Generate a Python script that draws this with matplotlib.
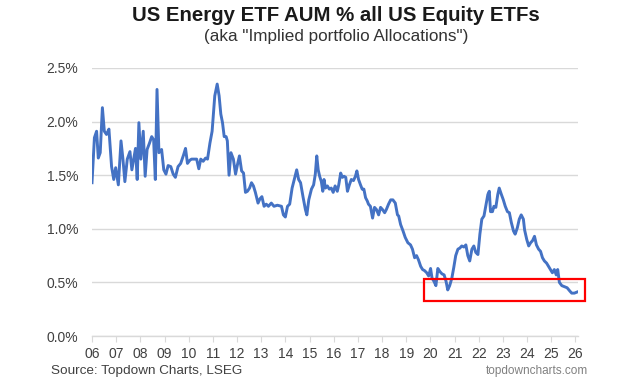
import matplotlib
matplotlib.use("Agg")
import matplotlib.pyplot as plt
from matplotlib.patches import Rectangle

plt.rcParams['font.family'] = ['Liberation Sans', 'DejaVu Sans']

years = [
    2006.00, 2006.10, 2006.19, 2006.26, 2006.34, 2006.43, 2006.51, 2006.60, 2006.70, 2006.81,
    2006.90, 2006.98, 2007.09, 2007.20, 2007.28, 2007.36, 2007.46, 2007.57, 2007.65, 2007.73,
    2007.80, 2007.87, 2007.94, 2008.02, 2008.12, 2008.20, 2008.28, 2008.38, 2008.47, 2008.55,
    2008.62, 2008.69, 2008.77, 2008.88, 2008.97, 2009.06, 2009.15, 2009.26, 2009.36, 2009.45,
    2009.56, 2009.67, 2009.79, 2009.87, 2009.95,
    2010.05, 2010.12, 2010.33, 2010.42, 2010.50, 2010.60, 2010.70, 2010.78, 2010.88, 2010.97,
    2011.08, 2011.18, 2011.26, 2011.33, 2011.40, 2011.47, 2011.55, 2011.60, 2011.67, 2011.75,
    2011.85, 2011.94, 2012.02, 2012.10, 2012.19, 2012.27, 2012.35, 2012.43, 2012.52, 2012.60,
    2012.68, 2012.76, 2012.87, 2012.95, 2013.03, 2013.12, 2013.21, 2013.30, 2013.42, 2013.53,
    2013.67, 2013.84, 2013.92, 2014.00,
    2014.09, 2014.18, 2014.28, 2014.39, 2014.47, 2014.55, 2014.63, 2014.73, 2014.83, 2014.89,
    2014.97, 2015.08, 2015.17, 2015.24, 2015.30, 2015.36, 2015.42, 2015.49, 2015.55, 2015.60,
    2015.66, 2015.74, 2015.82, 2015.90, 2015.98, 2016.06, 2016.15, 2016.21, 2016.29, 2016.36,
    2016.43, 2016.50, 2016.57, 2016.65, 2016.73, 2016.82, 2016.90, 2016.96, 2017.03, 2017.11,
    2017.18, 2017.25, 2017.32, 2017.39, 2017.44, 2017.52, 2017.61, 2017.69, 2017.77, 2017.86,
    2017.94, 2018.02, 2018.11, 2018.18, 2018.27, 2018.36, 2018.45, 2018.55, 2018.64, 2018.69,
    2018.77, 2018.87, 2018.96, 2019.07, 2019.18, 2019.26, 2019.35, 2019.43, 2019.51, 2019.60,
    2019.68, 2019.76, 2019.85, 2019.93, 2020.01, 2020.07, 2020.15, 2020.23, 2020.31, 2020.40,
    2020.48, 2020.57, 2020.65, 2020.72, 2020.80, 2020.89, 2020.97, 2021.05, 2021.14, 2021.22,
    2021.30, 2021.39, 2021.47, 2021.55, 2021.63, 2021.72, 2021.80, 2021.88, 2021.97, 2022.05,
    2022.13, 2022.22,
    2022.31, 2022.38, 2022.44, 2022.49, 2022.57, 2022.63, 2022.71, 2022.79, 2022.85, 2022.94,
    2023.02, 2023.10, 2023.19, 2023.27, 2023.35, 2023.44, 2023.51, 2023.60, 2023.68, 2023.76,
    2023.85, 2023.90, 2023.99, 2024.07, 2024.15, 2024.23, 2024.31, 2024.39, 2024.48, 2024.56,
    2024.64, 2024.72, 2024.81, 2024.89, 2024.97, 2025.05, 2025.13, 2025.21, 2025.27, 2025.34,
    2025.44, 2025.55, 2025.66, 2025.77, 2025.85, 2025.96, 2026.07,
]
alloc_pct = [
    1.43, 1.85, 1.91, 1.66, 1.71, 2.13, 1.91, 1.88, 1.93, 1.58,
    1.46, 1.57, 1.41, 1.82, 1.65, 1.44, 1.65, 1.72, 1.55, 1.66,
    1.75, 1.46, 1.99, 1.65, 1.91, 1.49, 1.74, 1.80, 1.86, 1.83,
    1.46, 2.30, 1.71, 1.74, 1.55, 1.51, 1.59, 1.58, 1.51, 1.48,
    1.58, 1.61, 1.69, 1.75, 1.61,
    1.64, 1.65, 1.65, 1.56, 1.65, 1.63, 1.66, 1.65, 1.80, 1.91,
    2.24, 2.35, 2.24, 2.07, 1.99, 1.86, 1.86, 1.82, 1.50, 1.71,
    1.65, 1.51, 1.60, 1.68, 1.54, 1.52, 1.34, 1.35, 1.38, 1.43,
    1.40, 1.34, 1.24, 1.28, 1.30, 1.21, 1.23, 1.21, 1.24, 1.21,
    1.22, 1.21, 1.13, 1.11,
    1.21, 1.23, 1.38, 1.48, 1.55, 1.46, 1.43, 1.30, 1.18, 1.13,
    1.27, 1.37, 1.41, 1.51, 1.68, 1.55, 1.49, 1.44, 1.35, 1.46,
    1.38, 1.40, 1.37, 1.38, 1.34, 1.40, 1.35, 1.41, 1.52, 1.48,
    1.49, 1.48, 1.35, 1.41, 1.46, 1.45, 1.49, 1.54, 1.46, 1.41,
    1.37, 1.37, 1.29, 1.26, 1.23, 1.21, 1.10, 1.20, 1.18, 1.13,
    1.20, 1.18, 1.15, 1.18, 1.23, 1.27, 1.27, 1.24, 1.13, 1.12,
    1.04, 0.98, 0.92, 0.87, 0.85, 0.81, 0.73, 0.75, 0.71, 0.65,
    0.62, 0.61, 0.59, 0.56, 0.63, 0.54, 0.51, 0.47, 0.63, 0.60,
    0.58, 0.57, 0.51, 0.43, 0.47, 0.54, 0.64, 0.75, 0.81, 0.82,
    0.84, 0.83, 0.85, 0.75, 0.70, 0.81, 0.84, 0.78, 0.76, 0.95,
    1.09, 1.12,
    1.23, 1.32, 1.35, 1.16, 1.16, 1.21, 1.20, 1.32, 1.38, 1.32,
    1.27, 1.21, 1.16, 1.15, 1.06, 0.98, 0.95, 1.01, 1.09, 1.13,
    1.09, 0.99, 0.90, 0.84, 0.87, 0.89, 0.93, 0.85, 0.81, 0.79,
    0.73, 0.70, 0.68, 0.65, 0.62, 0.59, 0.62, 0.57, 0.62, 0.50,
    0.47, 0.46, 0.45, 0.42, 0.40, 0.40, 0.41,
]

tick_years = list(range(2006, 2027))
tick_labels = [f"{y % 100:02d}" for y in tick_years]
y_ticks = [0.0, 0.5, 1.0, 1.5, 2.0, 2.5]
y_tick_labels = [f"{v:.1f}%" for v in y_ticks]

highlight_x = (2019.72, 2026.41)
highlight_y = (0.326, 0.531)

fig = plt.figure(figsize=(6.28, 3.89), dpi=100)
ax = fig.add_axes([0.1465, 0.1362, 0.7735, 0.689])

ax.plot(years, alloc_pct, color="#4472C4", linewidth=2.1, solid_joinstyle="round", zorder=3)

ax.set_xlim(2006, 2026.1)
ax.set_ylim(0, 2.5)
ax.set_yticks(y_ticks)
ax.set_yticklabels(y_tick_labels)
ax.set_xticks(tick_years)
ax.set_xticklabels(tick_labels)

ax.grid(axis="y", color="#D9D9D9", linewidth=1.0, zorder=0)
ax.grid(axis="x", visible=False)
for s in ["top", "right", "left"]:
    ax.spines[s].set_visible(False)
ax.spines["bottom"].set_color("#D9D9D9")
ax.spines["bottom"].set_linewidth(1.0)
ax.tick_params(axis="y", length=0, pad=10, labelsize=10, labelcolor="#404040")
ax.tick_params(axis="x", length=4, color="#D9D9D9", pad=4, labelsize=10, labelcolor="#404040")

rect = Rectangle((highlight_x[0], highlight_y[0]), highlight_x[1] - highlight_x[0],
                 highlight_y[1] - highlight_y[0], fill=False, edgecolor="#FF0000",
                 linewidth=1.6, clip_on=False, zorder=5)
ax.add_patch(rect)

fig.text(0.535, 0.96, "US Energy ETF AUM % all US Equity ETFs", ha="center", va="center",
         fontsize=14.7, fontweight="bold", color="#1A1A1A")
fig.text(0.535, 0.905, '(aka "Implied portfolio Allocations")', ha="center", va="center",
         fontsize=12.3, color="#333333")
fig.text(0.081, 0.045, "Source: Topdown Charts, LSEG", ha="left", va="center",
         fontsize=9.7, color="#404040")
fig.text(0.936, 0.045, "topdowncharts.com", ha="right", va="center",
         fontsize=8.5, color="#808080")

fig.savefig("out.png", dpi=100, facecolor="white")
